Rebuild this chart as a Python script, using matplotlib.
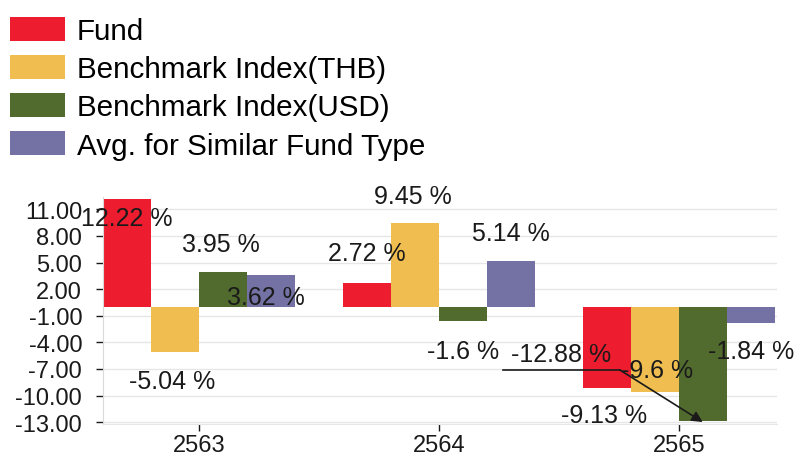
import numpy as np
import matplotlib.pyplot as plt

plt.rcParams['font.family'] = ['Liberation Sans', 'DejaVu Sans']

# data
years = ['2563', '2564', '2565']
series = ['Fund', 'Benchmark Index(THB)', 'Benchmark Index(USD)', 'Avg. for Similar Fund Type']
fund = [12.22, 2.72, -9.13]
bench_thb = [-5.04, 9.45, -9.6]
bench_usd = [3.95, -1.6, -12.88]
avg_similar = [3.62, 5.14, -1.84]
yticks = [11, 8, 5, 2, -1, -4, -7, -10, -13]

colors = ['#ED1C2E', '#F0BE50', '#516B2E', '#7472A4']
values = [fund, bench_thb, bench_usd, avg_similar]

# label positions (as placed by the original chart), one per bar
label_pos = [
    [(-0.30, 9.98), (0.70, 6.03), (1.69, -12.2)],
    [(-0.11, -8.33), (0.89, 12.5), (1.91, -7.16)],
    [(0.09, 7.04), (1.10, -4.94), (1.51, -5.28)],
    [(0.28, 1.16), (1.30, 8.29), (2.30, -4.98)],
]

fig = plt.figure(figsize=(7.94, 4.56), dpi=100)
ax = fig.add_axes([0.1297, 0.068, 0.849, 0.498])

x = np.arange(len(years))
w = 0.2
for i, (vals, c) in enumerate(zip(values, colors)):
    ax.bar(x - 0.3 + i * w, vals, width=w, color=c, label=series[i], zorder=2)

for i, vals in enumerate(values):
    for j, v in enumerate(vals):
        txt = f'{v:g} %'
        px, py = label_pos[i][j]
        ax.text(px, py, txt, ha='center', va='center', fontsize=18, color='#1a1a1a',
                zorder=5, clip_on=False)

# leader line for the -12.88 % label
ax.plot([1.267, 1.754], [-7.10, -7.10], color='#1a1a1a', lw=1.2, zorder=4)
ax.annotate('', xy=(2.10, -12.98), xytext=(1.754, -7.10),
            arrowprops=dict(arrowstyle='-|>', color='#1a1a1a', lw=1.2,
                            mutation_scale=16, shrinkA=0, shrinkB=0), zorder=4)

ax.set_xlim(-0.4, 2.41)
ax.set_ylim(-13.2, 12.4)
ax.set_yticks(yticks)
ax.set_yticklabels([f'{t:.2f}' for t in yticks])
ax.set_xticks(x)
ax.set_xticklabels(years)
ax.tick_params(axis='both', labelsize=17, colors='#1a1a1a', length=5, width=1)
ax.tick_params(axis='y', pad=10)
ax.tick_params(axis='x', pad=2)
ax.grid(axis='y', color='#E6E6E6', lw=1, zorder=0)
for s in ['top', 'right']:
    ax.spines[s].set_visible(False)
ax.spines['left'].set_color('#D9D9D9')
ax.spines['bottom'].set_color('#E6E6E6')

fig.legend(loc='upper left', bbox_to_anchor=(10 / 794, 1 - 18 / 456), frameon=False,
           fontsize=21.3, handlelength=1.86, handleheight=0.88, labelspacing=0.33,
           handletextpad=0.4, borderaxespad=0, borderpad=0)

fig.savefig('out.png', dpi=100)
